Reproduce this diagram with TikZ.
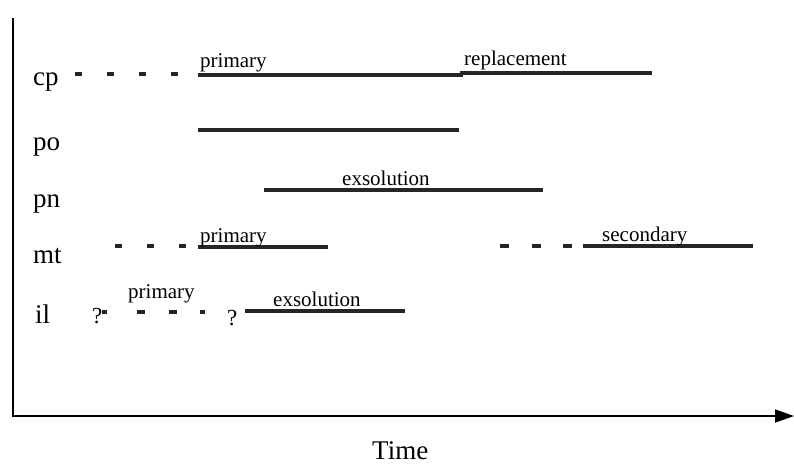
\documentclass[tikz,border=0pt]{standalone}
\usepackage{fontspec}
\setmainfont{Liberation Serif}
\usetikzlibrary{arrows.meta}

\tikzset{
    phase/.style={anchor=base west, inner sep=0pt, font=\fontsize{27}{30}\selectfont},
    stage/.style={anchor=base west, inner sep=0pt, font=\fontsize{21}{24}\selectfont},
    bar/.style={line width=3.5pt, black!85},
    guess/.style={line width=4.5pt, black!85, dash pattern=on 7pt off 25pt},
}

\begin{document}
\begin{tikzpicture}[x=1pt, y=-1pt]
    \useasboundingbox (0, 0) rectangle (794, 464);

    % axes
    \draw[line width=1.8pt, -{Triangle[length=19pt, width=13pt]}] (13, 18) -- (13, 416) -- (794, 416);
    \node[phase] (time) at (372, 459) {Time};

    % minerals
    \node[phase] (cp) at (33, 85) {cp};
    \node[phase] (po) at (33, 150) {po};
    \node[phase] (pn) at (33, 207) {pn};
    \node[phase] (mt) at (33, 263) {mt};
    \node[phase] (il) at (35, 323) {il};

    % cp
    \draw[guess] (75, 74) -- (182, 74);
    \draw[bar] (198, 75) -- (463, 75);
    \draw[bar] (460, 73) -- (652, 73);
    \node[stage] (cpprim) at (200, 67) {primary};
    \node[stage] (cprepl) at (464, 65) {replacement};

    % po
    \draw[bar] (198, 130) -- (459, 130);

    % pn
    \draw[bar] (264, 190) -- (543, 190);
    \node[stage] (pnexs) at (342, 185) {exsolution};

    % mt
    \draw[guess] (115, 246) -- (186, 246);
    \draw[bar] (198, 247) -- (328, 247);
    \node[stage] (mtprim) at (200, 242) {primary};
    \draw[guess, dash pattern=on 9pt off 22.5pt] (500, 246) -- (575, 246);
    \draw[bar] (583, 246) -- (753, 246);
    \node[stage] (mtsec) at (602, 241) {secondary};

    % il
    \node[stage, font=\fontsize{23}{26}\selectfont] (ilq) at (92, 323) {?};
    \foreach \a/\b in {102/107, 137/145, 169/177, 200/205}
        \draw[line width=4.5pt, black!85] (\a, 312) -- (\b, 312);
    \node[stage] (ilprim) at (128, 298) {primary};
    \node[stage, font=\fontsize{23}{26}\selectfont] (ilqq) at (227, 325) {?};
    \draw[bar] (245, 311) -- (405, 311);
    \node[stage] (ilexs) at (273, 306) {exsolution};

\end{tikzpicture}
\end{document}
